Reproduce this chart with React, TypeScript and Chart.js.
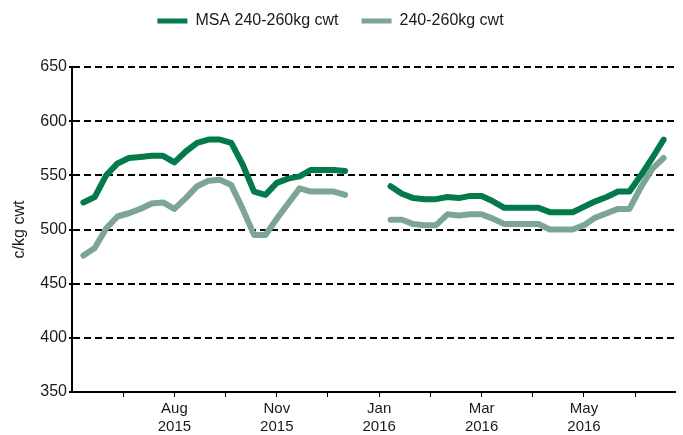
import React, { useEffect, useRef } from "react";
import { Chart, registerables } from "chart.js";

Chart.register(...registerables);

// ---- data ----
const seriesNames = ["MSA 240-260kg cwt", "240-260kg cwt"];

// weekly values (index = week number), null = no data
const msaValues: (number | null)[] = [
  525, 530, 550, 561, 566, 567, 568, 568, 562, 572, 580, 583, 583, 580, 560, 535,
  532, 543, 547, 549, 555, 555, 555, 554,
  null, null, null,
  540, 533, 529, 528, 528, 530, 529, 531, 531, 526, 520, 520, 520, 520, 516, 516,
  516, 521, 526, 530, 535, 535, 550, 566, 583,
];
const stdValues: (number | null)[] = [
  476, 483, 501, 512, 515, 519, 524, 525, 519, 529, 540, 545, 546, 541, 519, 495,
  495, 510, 524, 538, 535, 535, 535, 532,
  null, null, null,
  509, 509, 505, 504, 504, 514, 513, 514, 514, 510, 505, 505, 505, 505, 500, 500,
  500, 504, 511, 515, 519, 519, 539, 556, 566,
];

const xTickValues = [3.5, 8, 12.5, 17, 21.5, 26, 30.5, 35, 39.5, 44, 48.5];
const xTickLabels: (string | string[])[] = [
  "", ["Aug", "2015"], "", ["Nov", "2015"], "", ["Jan", "2016"], "",
  ["Mar", "2016"], "", ["May", "2016"], "",
];
const yMin = 350;
const yMax = 650;
const yStep = 50;
const yTitle = "c/kg cwt";

const DARK = "#037a4a";
const LIGHT = "#7ca593";
const TEXT = "#1a1a1a";

export default function App() {
  const ref = useRef<HTMLCanvasElement>(null);

  useEffect(() => {
    const legendTweak = {
      id: "legendTweak",
      beforeInit(chart: any) {
        const lg = chart.legend;
        if (lg && !lg._patched) {
          const orig = lg.fit.bind(lg);
          lg.fit = function () {
            orig();
            lg.height += 18;
          };
          lg._patched = true;
        }
      },
      afterLayout(chart: any) {
        const lg = chart.legend;
        if (lg) {
          lg.top -= 10;
          lg.bottom -= 10;
          lg.left -= 7;
          lg.right -= 7;
        }
      },
    };

    const family = "'Liberation Sans', Arial, sans-serif";
    const chart = new Chart(ref.current!, {
      type: "line",
      data: {
        datasets: [
          {
            label: seriesNames[0],
            data: msaValues.map((v, i) => ({ x: i, y: v })) as any,
            borderColor: DARK,
            backgroundColor: DARK,
            borderWidth: 6,
            pointRadius: 0,
            tension: 0,
            spanGaps: false,
            borderCapStyle: "round",
            borderJoinStyle: "round",
          },
          {
            label: seriesNames[1],
            data: stdValues.map((v, i) => ({ x: i, y: v })) as any,
            borderColor: LIGHT,
            backgroundColor: LIGHT,
            borderWidth: 6,
            pointRadius: 0,
            tension: 0,
            spanGaps: false,
            borderCapStyle: "round",
            borderJoinStyle: "round",
          },
        ],
      },
      options: {
        responsive: false,
        animation: false,
        layout: { padding: { top: 0, right: 8, bottom: 0, left: 0 } },
        plugins: {
          tooltip: { enabled: false },
          legend: {
            display: true,
            position: "top",
            labels: {
              boxWidth: 30,
              boxHeight: 5,
              padding: 23,
              color: TEXT,
              font: { size: 16, family },
              generateLabels: (c: any) =>
                c.data.datasets.map((ds: any, i: number) => ({
                  text: ds.label,
                  fillStyle: ds.borderColor,
                  strokeStyle: ds.borderColor,
                  lineWidth: 0,
                  hidden: false,
                  datasetIndex: i,
                  fontColor: TEXT,
                })),
            },
          },
        },
        scales: {
          x: {
            type: "linear",
            min: -1,
            max: 52,
            afterFit: (s: any) => {
              s.height = 43;
            },
            afterBuildTicks: (s: any) => {
              s.ticks = xTickValues.map((v) => ({ value: v }));
            },
            ticks: {
              autoSkip: false,
              maxRotation: 0,
              padding: 3,
              color: TEXT,
              font: { size: 15, family, lineHeight: 1.2 },
              callback: (_v: any, i: number) => xTickLabels[i],
            },
            grid: {
              drawOnChartArea: false,
              drawTicks: true,
              tickLength: 5,
              color: "#000",
              lineWidth: 1,
            },
            border: { display: true, color: "#000", width: 2 },
          },
          y: {
            min: yMin,
            max: yMax,
            afterFit: (s: any) => {
              s.width = 72;
            },
            ticks: {
              stepSize: yStep,
              padding: 2,
              color: TEXT,
              font: { size: 16, family },
            },
            title: {
              display: true,
              text: yTitle,
              color: TEXT,
              font: { size: 16, family },
              padding: { top: 10, bottom: 0 },
            },
            grid: {
              color: "#000",
              lineWidth: 2,
              drawTicks: true,
              tickLength: 3,
              tickColor: "#000",
              tickWidth: 2,
            },
            border: { display: true, color: "#000", width: 2, dash: [7, 4] },
          },
        },
      },
      plugins: [legendTweak],
    });
    return () => chart.destroy();
  }, []);

  return (
    <div style={{ position: "absolute", left: 0, top: 0, width: 683, height: 435, background: "#fff" }}>
      <canvas ref={ref} width={683} height={435} style={{ display: "block" }} />
    </div>
  );
}
